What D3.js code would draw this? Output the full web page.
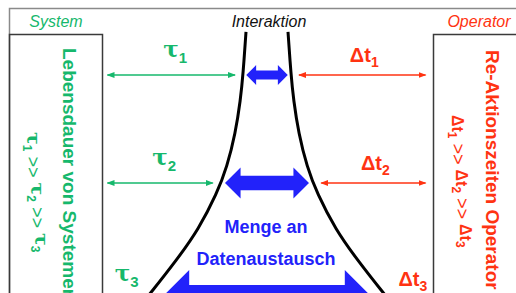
<!DOCTYPE html>
<html>
<head>
<meta charset="utf-8">
<script src="https://cdn.jsdelivr.net/npm/d3@7"></script>
<style>
  body { margin: 0; background: #fff; }
  svg { display: block; }
  text { font-family: "Liberation Sans", Arial, sans-serif; }
</style>
</head>
<body>
<div id="chart"></div>
<script>
// -------------------------------------------------------------------------- //
//                     INTERAKTION SYSTEM / OPERATOR                          //
// -------------------------------------------------------------------------- //

// interaction levels (top = short, bottom = long)
var levels = [1, 2, 3];
var subs   = ["1", "2", "3"];

// reach of the blue "Datenaustausch" arrow per level (1 = funnel half width at level 3)
var exchange = [0.173, 0.35, 0.89];

// funnel outline: level position and half width
var funnelLevel = [0.6, 1, 1.23, 1.54, 1.85, 2.09, 2.4, 2.66, 2.95, 3.1];
var funnelHalf  = [0.175, 0.2, 0.221, 0.263, 0.333, 0.417, 0.571, 0.75, 0.971, 1.09];

// texts
var headers      = ["System", "Interaktion", "Operator"];
var sideTitles   = ["Lebensdauer von Systemen", "Re-Aktionszeiten Operator"];
var exchangeText = ["Menge an", "Datenaustausch"];

var green = "#16b86c",
    red   = "#ff3312",
    blue  = "#2222fa";

var width  = 516,
    height = 293;

var svg = d3.select("#chart").append("svg")
    .attr("width", width)
    .attr("height", height);

// set the ranges
var y = d3.scaleLinear().domain([1, 2, 3]).range([75, 183, 299]);
var x = d3.scaleLinear().domain([-1, 1]).range([147, 387]);
var half = d3.scaleLinear().domain(funnelLevel).range(funnelHalf);
var shaft = d3.scalePow().exponent(0.7).domain([0, d3.max(exchange)]).range([0, 14]);

var frame = { top: 8.5, left: 9.5, boxTop: 34.5, leftBox: 102.5, rightBox: 433.5 };

// frames
svg.append("path")
  .attr("d", "M" + frame.left + "," + (height + 5) + "V" + frame.top + "H" + (width + 5))
  .attr("fill", "none")
  .attr("stroke", "#8a8a8a")
  .attr("stroke-width", 1.5);

svg.append("rect")
  .attr("x", frame.left).attr("y", frame.boxTop)
  .attr("width", frame.leftBox - frame.left).attr("height", height)
  .attr("fill", "none").attr("stroke", "#3a3a3a").attr("stroke-width", 1.5);

svg.append("rect")
  .attr("x", frame.rightBox).attr("y", frame.boxTop)
  .attr("width", 120).attr("height", height)
  .attr("fill", "none").attr("stroke", "#3a3a3a").attr("stroke-width", 1.5);

// headers
var hx = [(frame.left + frame.leftBox) / 2, x(0) + 2, 479];
var hc = [green, "#111", red];
svg.selectAll(".header")
  .data(headers)
  .enter().append("text")
    .attr("class", "header")
    .attr("x", function (d, i) { return hx[i]; })
    .attr("y", 27)
    .attr("text-anchor", "middle")
    .attr("font-style", "italic")
    .attr("font-size", "16px")
    .attr("fill", function (d, i) { return hc[i]; })
    .text(function (d) { return d; });

// arrow markers
var defs = svg.append("defs");
[["g", green], ["r", red]].forEach(function (m) {
  defs.append("marker")
    .attr("id", "head-" + m[0])
    .attr("viewBox", "0 -4 8 8")
    .attr("refX", 7).attr("refY", 0)
    .attr("markerUnits", "userSpaceOnUse")
    .attr("markerWidth", 8).attr("markerHeight", 8)
    .attr("orient", "auto-start-reverse")
  .append("path")
    .attr("d", "M0,-3L8,0L0,3Z")
    .attr("fill", m[1]);
});

// funnel
var fdata = funnelLevel.map(function (l, i) { return { l: l, h: funnelHalf[i] }; });
[-1, 1].forEach(function (side) {
  svg.append("path")
    .datum(fdata)
    .attr("fill", "none")
    .attr("stroke", "#000")
    .attr("stroke-width", 3)
    .attr("d", d3.line()
      .x(function (d) { return x(side * d.h); })
      .y(function (d) { return y(d.l); })
      .curve(d3.curveBasis));
});

// blue exchange arrows
function bigArrow (l, r) {
  var cy = y(l), s = shaft(r), hh = 2 * s + 1;
  var x0 = x(-r), x1 = x(r);
  return "M" + x0 + "," + cy +
    "L" + (x0 + hh) + "," + (cy - hh) + "V" + (cy - s) +
    "H" + (x1 - hh) + "V" + (cy - hh) + "L" + x1 + "," + cy +
    "L" + (x1 - hh) + "," + (cy + hh) + "V" + (cy + s) +
    "H" + (x0 + hh) + "V" + (cy + hh) + "Z";
}

svg.selectAll(".exchange")
  .data(levels)
  .enter().append("path")
    .attr("class", "exchange")
    .attr("fill", blue)
    .attr("d", function (d, i) { return bigArrow(d, exchange[i]); });

// thin arrows: system lifetimes (green) and operator reaction times (red)
var gap = 8;
var tau = levels.map(function (l) {
  return { l: l, x0: frame.leftBox + 5, x1: x(-half(l)) - gap };
});
var dt = levels.map(function (l) {
  return { l: l, x0: x(half(l)) + gap, x1: frame.rightBox - 8 };
});

function thinArrows (data, color, id) {
  svg.selectAll(".arr-" + id)
    .data(data)
    .enter().append("line")
      .attr("class", "arr-" + id)
      .attr("x1", function (d) { return d.x0; })
      .attr("x2", function (d) { return d.x1; })
      .attr("y1", function (d) { return y(d.l); })
      .attr("y2", function (d) { return y(d.l); })
      .attr("stroke", color)
      .attr("stroke-width", 1.6)
      .attr("marker-start", "url(#head-" + id + ")")
      .attr("marker-end", "url(#head-" + id + ")");
}
thinArrows(tau, green, "g");
thinArrows(dt, red, "r");

// labels tau_i and delta t_i
var tl = svg.selectAll(".tau-label")
  .data(tau)
  .enter().append("text")
    .attr("class", "tau-label")
    .attr("x", function (d) { return (d.x0 + d.x1) / 2 + 4; })
    .attr("y", function (d) { return y(d.l) - 18; })
    .attr("text-anchor", "middle")
    .attr("fill", green)
    .attr("font-weight", "bold");
tl.append("tspan")
  .attr("font-family", "'DejaVu Serif', serif")
  .attr("font-size", "23px")
  .text("τ");
tl.append("tspan")
  .attr("font-size", "15px")
  .attr("dy", 6)
  .text(function (d, i) { return subs[i]; });

var dl = svg.selectAll(".dt-label")
  .data(dt)
  .enter().append("text")
    .attr("class", "dt-label")
    .attr("x", function (d) { return (d.x0 + d.x1) / 2 + 2; })
    .attr("y", function (d) { return y(d.l) - 13; })
    .attr("text-anchor", "middle")
    .attr("fill", red)
    .attr("font-weight", "bold");
dl.append("tspan")
  .attr("font-size", "20px")
  .text("Δt");
dl.append("tspan")
  .attr("font-size", "14px")
  .attr("dy", 5)
  .text(function (d, i) { return subs[i]; });

// side titles (vertical)
var sx = [63, 486], sy = [48, 50], sc = [green, red];
svg.selectAll(".side")
  .data(sideTitles)
  .enter().append("text")
    .attr("class", "side")
    .attr("transform", function (d, i) { return "translate(" + sx[i] + "," + sy[i] + ") rotate(90)"; })
    .attr("font-size", "19px")
    .attr("font-weight", "bold")
    .attr("fill", function (d, i) { return sc[i]; })
    .text(function (d) { return d; });

// orderings tau1 >> tau2 >> tau3 and dt1 >> dt2 >> dt3
function ordering (tx, ty, sym, symFont, symSize, color) {
  var t = svg.append("text")
    .attr("transform", "translate(" + tx + "," + ty + ") rotate(90)")
    .attr("fill", color)
    .attr("font-weight", "bold");
  subs.forEach(function (s, i) {
    t.append("tspan")
      .attr("font-family", symFont)
      .attr("font-size", symSize)
      .attr("dy", i ? -4 : 0)
      .text(sym);
    t.append("tspan")
      .attr("font-size", "12px")
      .attr("dy", 4)
      .text(s);
    if (i < subs.length - 1) {
      t.append("tspan")
        .attr("font-size", "18px")
        .attr("font-weight", "normal")
        .attr("dy", -4)
        .text(" >> ");
      t.append("tspan").attr("dy", 4).text("");
    }
  });
}
ordering(27, 132, "τ", "'DejaVu Serif', serif", "19px", green);
ordering(452, 115, "Δt", "'Liberation Sans', Arial, sans-serif", "16px", red);

// amount of data exchange
svg.selectAll(".menge")
  .data(exchangeText)
  .enter().append("text")
    .attr("class", "menge")
    .attr("x", x(0) - 1)
    .attr("y", function (d, i) { return y(2.43 + i * 0.28); })
    .attr("text-anchor", "middle")
    .attr("font-size", "18px")
    .attr("font-weight", "bold")
    .attr("fill", blue)
    .text(function (d) { return d; });
</script>
</body>
</html>
